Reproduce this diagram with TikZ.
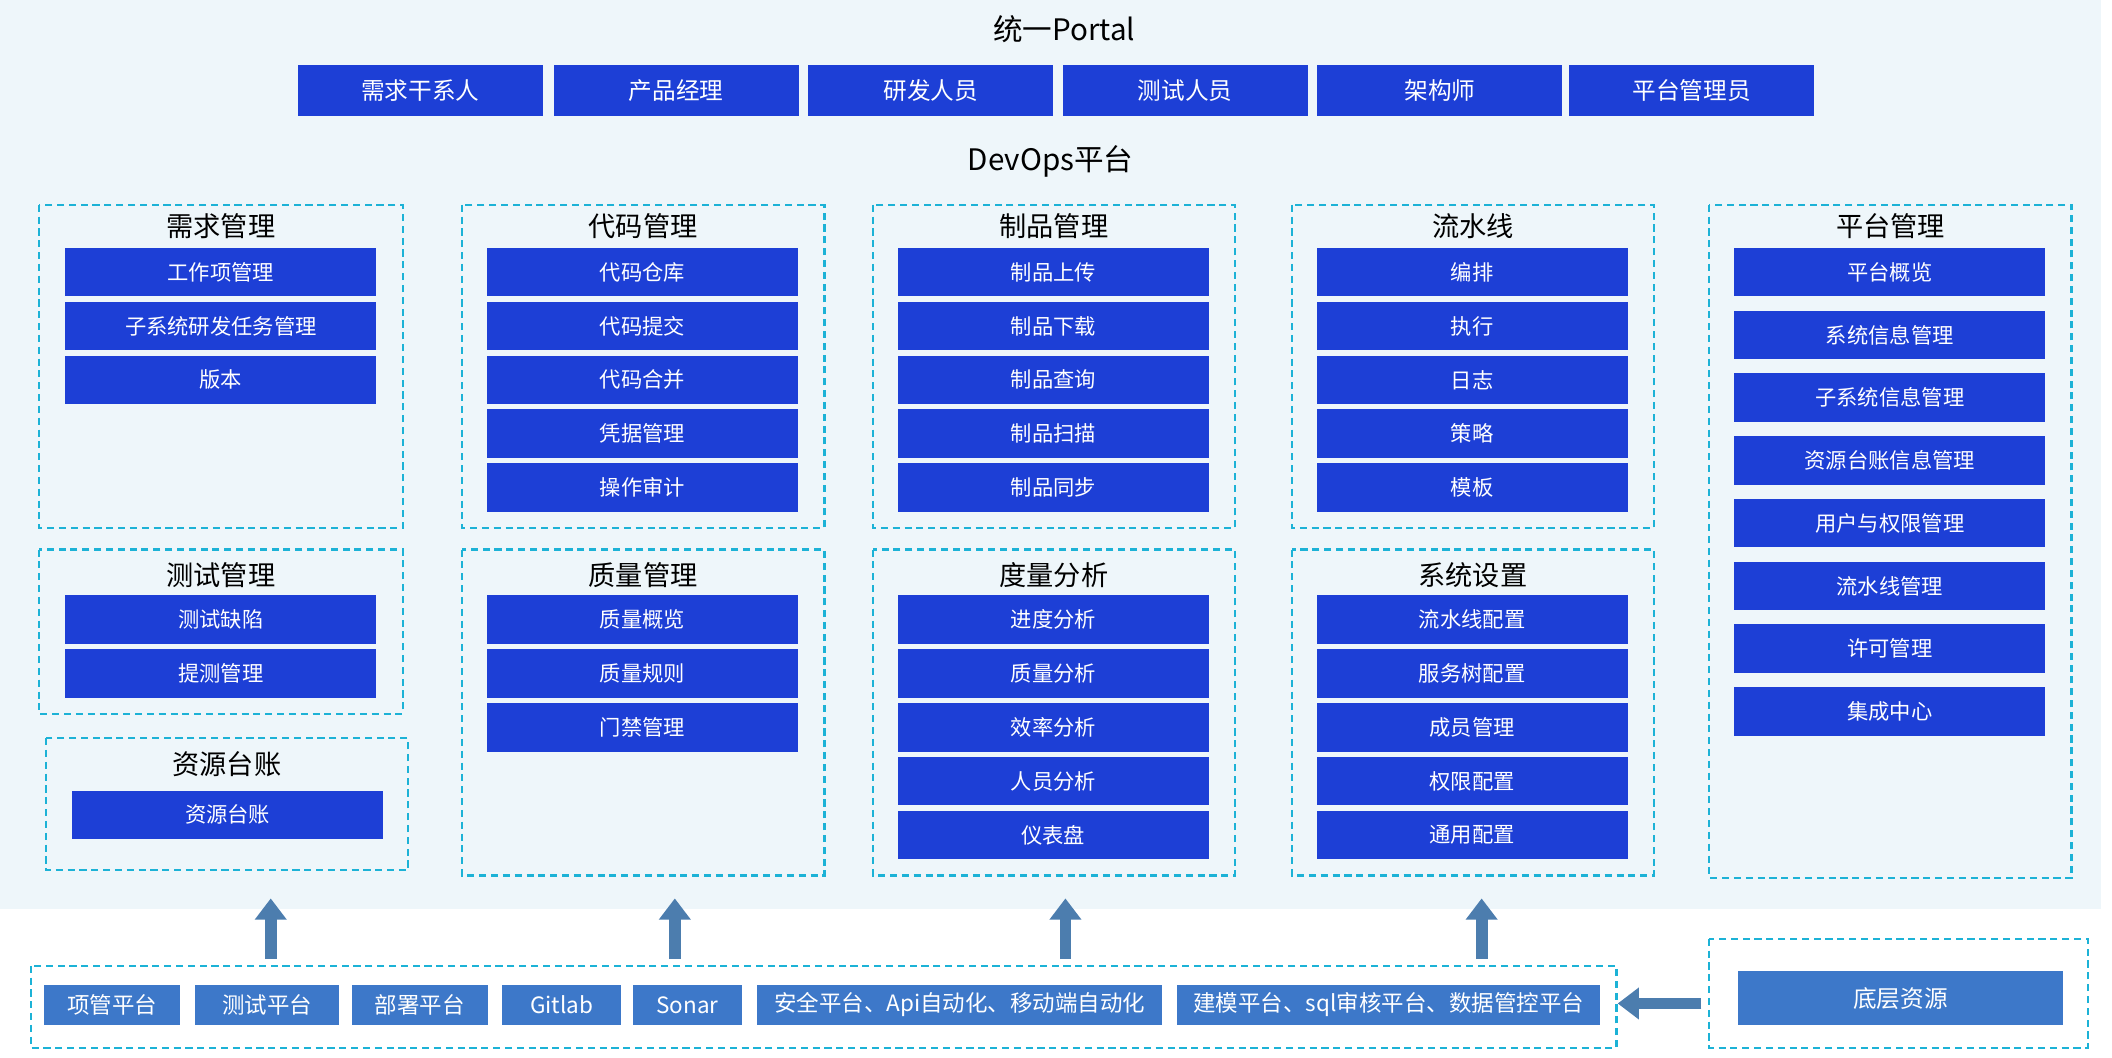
\documentclass[tikz,border=0pt]{standalone}
\usepackage{fontspec}
\setmainfont{Noto Sans CJK SC}
\usetikzlibrary{arrows.meta,positioning,calc}
\definecolor{bgblue}{HTML}{EEF6FA}
\definecolor{modblue}{HTML}{1D3FD6}
\definecolor{grpcyan}{HTML}{1CB2D6}
\definecolor{toolblue}{HTML}{3D78C9}
\definecolor{arrblue}{HTML}{4C7DAE}
\tikzset{
  modbox/.style={fill=modblue, text=white, minimum width=4.62cm, minimum height=0.72cm, inner sep=0pt, font=\fontsize{9}{10}\selectfont},
  rolebox/.style={modbox, minimum width=3.64cm, minimum height=0.76cm, font=\fontsize{10}{11}\selectfont},
  toolbox/.style={fill=toolblue, text=white, minimum height=0.6cm, inner sep=0pt, font=\fontsize{9.5}{10}\selectfont},
  grpbox/.style={draw=grpcyan, dashed, line width=1pt, dash pattern=on 3pt off 2pt},
  grptitle/.style={font=\fontsize{11.5}{12}\selectfont},
  uparrow/.style={arrblue, line width=5pt, -{Triangle[length=9pt, width=13pt]}}
}
\begin{document}
\begin{tikzpicture}[x=0.02cm, y=-0.02cm]
  \useasboundingbox (0,0) rectangle (1568,785);
  \fill[bgblue] (0,0) rectangle (1560,675);

  % Portal
  \node[font=\fontsize{12.5}{13}\selectfont] (portal) at (790,22) {统一Portal};
  \foreach \x/\t [count=\i] in {312/需求干系人, 502/产品经理, 691/研发人员, 880/测试人员, 1069/架构师, 1256/平台管理员}
    \node[rolebox] (role\i) at (\x,67) {\t};

  \node[font=\fontsize{12.5}{13}\selectfont] (devops) at (780,120) {DevOps平台};

  % groups
  \foreach \n/\xa/\ya/\xb/\yb/\t/\ty in {
      req/29/152/299/392/需求管理/168, test/29/408/299/530/测试管理/427, res/34/548/303/646/资源台账/567,
      code/343/152/612/392/代码管理/168, qual/343/408/612/650/质量管理/427,
      art/648/152/917/392/制品管理/168, metr/648/408/917/650/度量分析/427,
      pipe/959/152/1228/392/流水线/168, sys/959/408/1228/650/系统设置/427,
      plat/1269/152/1538/652/平台管理/168}{
    \draw[grpbox] (\xa,\ya) rectangle (\xb,\yb);
    \node[grptitle] (\n-title) at ({(\xa+\xb)/2},\ty) {\t};
  }

  % items
  \foreach \t [count=\i] in {工作项管理, 子系统研发任务管理, 版本}
    \node[modbox] (req\i) at (164,{162+40*\i}) {\t};
  \foreach \t [count=\i] in {测试缺陷, 提测管理}
    \node[modbox] (test\i) at (164,{420+40*\i}) {\t};
  \node[modbox] (res1) at (169,605) {资源台账};
  \foreach \t [count=\i] in {代码仓库, 代码提交, 代码合并, 凭据管理, 操作审计}
    \node[modbox] (code\i) at (477,{162+40*\i}) {\t};
  \foreach \t [count=\i] in {质量概览, 质量规则, 门禁管理}
    \node[modbox] (qual\i) at (477,{420+40*\i}) {\t};
  \foreach \t [count=\i] in {制品上传, 制品下载, 制品查询, 制品扫描, 制品同步}
    \node[modbox] (art\i) at (782,{162+40*\i}) {\t};
  \foreach \t [count=\i] in {进度分析, 质量分析, 效率分析, 人员分析, 仪表盘}
    \node[modbox] (metr\i) at (782,{420+40*\i}) {\t};
  \foreach \t [count=\i] in {编排, 执行, 日志, 策略, 模板}
    \node[modbox] (pipe\i) at (1093,{162+40*\i}) {\t};
  \foreach \t [count=\i] in {流水线配置, 服务树配置, 成员管理, 权限配置, 通用配置}
    \node[modbox] (sys\i) at (1093,{420+40*\i}) {\t};
  \foreach \t [count=\i] in {平台概览, 系统信息管理, 子系统信息管理, 资源台账信息管理, 用户与权限管理, 流水线管理, 许可管理, 集成中心}
    \node[modbox] (plat\i) at (1403,{155.4+46.6*\i}) {\t};

  % bottom tools
  \draw[grpbox] (23,717) rectangle (1200,778);
  \foreach \xa/\xb/\t [count=\i] in {33/134/项管平台, 145/252/测试平台, 261/362/部署平台, 373/461/Gitlab, 470/551/Sonar,
      562/863/{安全平台、Api自动化、移动端自动化}, 874/1188/{建模平台、sql审核平台、数据管控平台}}
    \node[toolbox, minimum width={(\xb-\xa)*0.02cm}] (tool\i) at ({(\xa+\xb)/2},746) {\t};

  \draw[grpbox] (1269,697) rectangle (1550,778);
  \node[toolbox, minimum width=4.82cm, minimum height=0.8cm, font=\fontsize{10}{11}\selectfont] (base) at (1411,741) {底层资源};

  % arrows
  \foreach \x in {201, 501, 791, 1100}
    \draw[uparrow] (\x,712) -- (\x,667);
  \coordinate (toolsend) at (1201,745);
  \draw[uparrow] (base.west) ++(-27,4) -- (toolsend);
\end{tikzpicture}
\end{document}
